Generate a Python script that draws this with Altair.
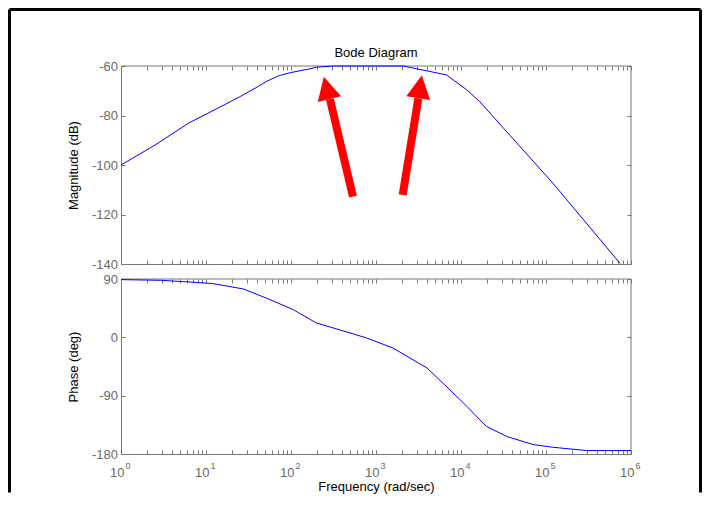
import altair as alt
import pandas as pd

# ---------------- data ----------------
mag_freq = [1, 2.5, 6.3, 15.8, 25, 40, 51, 71, 98, 158, 200, 316, 2090, 4000, 6760, 11750, 16600, 120200, 741000]
mag_db = [-100, -92, -83, -76, -72.4, -68.5, -66.3, -64, -62.7, -61.3, -60.5, -60, -60, -62, -63.6, -69.7, -74.4, -107.3, -139.7]

ph_freq = [1, 2.9, 7.1, 12, 27.5, 51, 107, 126, 166, 200, 316, 776, 1585, 3981, 7413, 11750, 19950, 34670, 70800, 120200, 302000, 1000000]
ph_deg = [89, 88, 85, 83, 74.6, 60.7, 42.6, 37, 28, 22, 14.4, -1, -16.5, -47.3, -81, -106.7, -137.5, -153, -165.5, -169.6, -174.7, -174.7]

x_ticks = [m * 10 ** k for k in range(6) for m in range(1, 10)] + [1000000]
decades = [1, 10, 100, 1000, 10000, 100000, 1000000]
exponents = ["0", "1", "2", "3", "4", "5", "6"]
mag_ticks = [-140, -120, -100, -80, -60]
ph_ticks = [-180, -90, 0, 90]

arrow_tail_freq = [536, 2061]
arrow_tail_db = [-112.8, -112.1]
arrow_base_freq = [287, 3148]
arrow_base_db = [-73.4, -73.1]
arrow_tip_freq = [240, 3451]
arrow_tip_db = [-64.3, -63.6]
arrow_angle = [346, 9]

# ---------------- layout / style ----------------
W, H = 510, 388
MAG_R = [198, 0]
PH_R = [388, 213]
GRAY = "#777777"
LABEL = "#6a6a6a"
FONT = "Liberation Sans"

xs = alt.Scale(type="log", domain=[1, 1000000], nice=False)
ms = alt.Scale(domain=[-140, -60], range=MAG_R, nice=False, zero=False)
ps = alt.Scale(domain=[-180, 90], range=PH_R, nice=False, zero=False)


def tick_axis(orient, offset, values, **kw):
    d = dict(orient=orient, offset=offset, values=values, domain=False, grid=False,
             ticks=True, tickSize=4, tickColor=GRAY, tickWidth=1, labels=False,
             title=None, labelFlush=False, labelOverlap=False)
    d.update(kw)
    return alt.Axis(**d)


ax_mag_top = tick_axis("top", -4, x_ticks)
ax_mag_bot = tick_axis("top", -MAG_R[0], x_ticks)
ax_ph_top = tick_axis("bottom", PH_R[1] - H, x_ticks)
ax_ph_bot = tick_axis(
    "bottom", -4, x_ticks, labels=True,
    labelExpr="abs(log(datum.value)/LN10 - round(log(datum.value)/LN10)) < 0.000001 ? '10' : ''",
    labelFont=FONT, labelFontSize=13, labelColor=LABEL, labelAlign="right", labelOffset=3,
    labelPadding=12.5, title="Frequency  (rad/sec)", titleFont=FONT, titleFontSize=13,
    titleFontWeight="normal", titleColor="black", titlePadding=1)

ylab = dict(labels=True, labelExpr="'' + datum.value", labelFont=FONT, labelFontSize=13,
            labelColor=LABEL, labelPadding=3.5,
            titleFont=FONT, titleFontSize=13, titleFontWeight="normal", titleColor="black",
            titlePadding=11)
ax_mag_left = tick_axis("left", -4, mag_ticks, title="Magnitude (dB)", **ylab)
ax_mag_right = tick_axis("right", -4, mag_ticks)
ax_ph_left = tick_axis("left", -4, ph_ticks, title="Phase (deg)", **ylab)
ax_ph_right = tick_axis("right", -4, ph_ticks)

# ---------------- magnitude panel ----------------
mdf = pd.DataFrame({"f": mag_freq, "db": mag_db})
mbox = pd.DataFrame({"x1": [1], "x2": [1000000], "y1": [-140], "y2": [-60]})

mag_box = alt.Chart(mbox).mark_rect(fillOpacity=0, stroke=GRAY, strokeWidth=1,
                                    xOffset=0.5, yOffset=0.5).encode(
    x=alt.X("x1:Q", scale=xs, axis=ax_mag_bot), x2="x2:Q",
    y=alt.Y("y1:Q", scale=ms, axis=ax_mag_right), y2="y2:Q")
mag_line = alt.Chart(mdf).mark_line(color="#0000ff", strokeWidth=1).encode(
    x=alt.X("f:Q", scale=xs, axis=ax_mag_top),
    y=alt.Y("db:Q", scale=ms, axis=ax_mag_left))

head_f = [(a * b) ** 0.5 for a, b in zip(arrow_tip_freq, arrow_base_freq)]
head_db = [(a + b) / 2 for a, b in zip(arrow_tip_db, arrow_base_db)]
adf = pd.DataFrame({"tf": arrow_tail_freq, "tdb": arrow_tail_db,
                    "bf": arrow_base_freq, "bdb": arrow_base_db,
                    "hf": head_f, "hdb": head_db, "ang": arrow_angle})
shaft = alt.Chart(adf).mark_rule(color="#ff0000", strokeWidth=8, strokeCap="butt").encode(
    x=alt.X("tf:Q", scale=xs, axis=None), x2="bf:Q",
    y=alt.Y("tdb:Q", scale=ms, axis=None), y2="bdb:Q")
head = alt.Chart(adf).mark_point(shape="M0,-0.96L1,0.96L-1,0.96Z", filled=True,
                                 color="#ff0000", size=576, opacity=1).encode(
    x=alt.X("hf:Q", scale=xs, axis=None),
    y=alt.Y("hdb:Q", scale=ms, axis=None),
    angle=alt.Angle("ang:Q", scale=None))

mag = alt.layer(mag_box, mag_line, shaft, head).resolve_axis(x="independent", y="independent")

# ---------------- phase panel ----------------
pdf = pd.DataFrame({"f": ph_freq, "deg": ph_deg})
pbox = pd.DataFrame({"x1": [1], "x2": [1000000], "y1": [-180], "y2": [90]})

ph_box = alt.Chart(pbox).mark_rect(fillOpacity=0, stroke=GRAY, strokeWidth=1,
                                   xOffset=0.5, yOffset=0.5).encode(
    x=alt.X("x1:Q", scale=xs, axis=ax_ph_top), x2="x2:Q",
    y=alt.Y("y1:Q", scale=ps, axis=ax_ph_right), y2="y2:Q")
ph_line = alt.Chart(pdf).mark_line(color="#0000ff", strokeWidth=1).encode(
    x=alt.X("f:Q", scale=xs, axis=ax_ph_bot),
    y=alt.Y("deg:Q", scale=ps, axis=ax_ph_left))

edf = pd.DataFrame({"f": decades, "e": exponents})
exps = alt.Chart(edf).mark_text(align="left", baseline="alphabetic", dx=4.5, dy=15,
                                fontSize=9, font=FONT, color=LABEL).encode(
    x=alt.X("f:Q", scale=xs, axis=None), y=alt.value(H), text="e:N")

ph = alt.layer(ph_box, ph_line, exps).resolve_axis(x="independent", y="independent")

# ---------------- frame and title ----------------
FR_L, FR_R, FR_T, FR_B = -111.5, 579.5, -56.5, 426.5
one = pd.DataFrame({"a": [0]})
frame_top = alt.Chart(one).mark_rule(color="black", strokeWidth=3).encode(
    x=alt.value(FR_L), x2=alt.value(FR_R), y=alt.value(FR_T))
frame_left = alt.Chart(one).mark_rule(color="black", strokeWidth=3).encode(
    x=alt.value(FR_L), y=alt.value(FR_T), y2=alt.value(FR_B))
frame_right = alt.Chart(one).mark_rule(color="black", strokeWidth=3).encode(
    x=alt.value(FR_R), y=alt.value(FR_T), y2=alt.value(FR_B))
title = alt.Chart(one).mark_text(text="Bode Diagram", fontSize=13, font=FONT, color="black",
                                 baseline="alphabetic", align="center").encode(
    x=alt.value(W / 2), y=alt.value(-9.3))

chart = alt.layer(mag, ph, frame_top, frame_left, frame_right, title).resolve_scale(
    y="independent").resolve_axis(x="independent", y="independent").properties(
    width=W, height=H, padding=0).configure_view(stroke="transparent")

chart.save("out.html", embed_options={"renderer": "svg", "actions": False})
